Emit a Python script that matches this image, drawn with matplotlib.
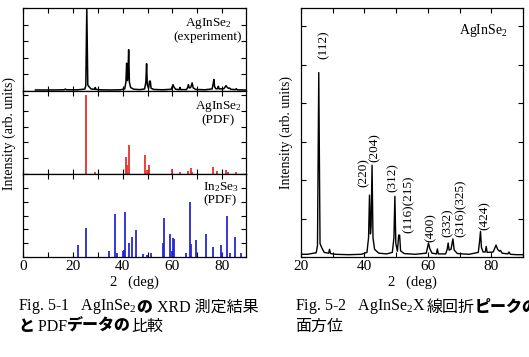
import numpy as np
import matplotlib.pyplot as plt
import matplotlib.ticker as mt

plt.rcParams['font.family'] = ['Liberation Serif', 'Noto Sans CJK JP']
plt.rcParams['mathtext.fontset'] = 'custom'
plt.rcParams['mathtext.rm'] = 'Liberation Serif'
plt.rcParams['mathtext.it'] = 'Liberation Serif:italic'

tth_exp = [5.0, 12.0, 16.5, 17.0, 17.5, 22.0, 24.8, 25.2, 25.6, 26.0, 26.5, 27.3,
           28.7, 29.0, 29.3, 31.0, 35.0, 39.0, 40.8, 41.3, 41.6, 41.9, 42.1, 42.4,
           42.7, 43.2, 44.5, 47.0, 48.8, 49.3, 49.6, 49.9, 50.4, 50.8, 51.1, 51.4,
           52.5, 56.0, 59.5, 59.9, 60.2, 60.6, 61.3, 62.7, 63.0, 63.3, 65.6, 66.1,
           66.4, 66.7, 67.3, 67.9, 68.3, 69.3, 73.0, 75.9, 76.3, 76.6, 76.9, 77.4,
           78.1, 78.4, 78.7, 80.6, 81.2, 81.5, 82.0, 82.6, 82.9, 83.4, 85.2, 85.6,
           86.0, 88.0, 90.0]
cnt_exp = [60, 60, 70, 110, 70, 70, 110, 300, 4800, 350, 250, 120,
           100, 200, 90, 70, 60, 70, 120, 500, 1610, 600, 800, 2390,
           500, 200, 100, 80, 120, 500, 1580, 350, 150, 570, 570, 160,
           90, 70, 100, 250, 365, 220, 100, 80, 210, 80, 80, 200,
           365, 180, 200, 470, 180, 90, 70, 120, 400, 665, 250, 130,
           130, 275, 120, 130, 250, 310, 200, 150, 170, 100, 80, 130,
           70, 60, 60]

# ---- AgInSe2 PDF card (2theta, relative intensity)
tth_ais = [25.3, 28.9, 41.4, 41.6, 42.6, 49.0, 49.8, 50.7, 59.7, 63.1, 66.4,
           67.5, 67.8, 76.4, 77.8, 81.5, 82.4, 85.5]
int_ais = [100, 3, 21, 12, 37, 24, 5, 11, 6, 2, 4, 7, 3, 9, 4, 5, 3, 2]

# ---- In2Se3 PDF card
tth_ins = [22.2, 25.2, 34.7, 36.9, 37.6, 40.0, 40.6, 41.1, 42.7, 43.6, 45.4,
           48.1, 49.7, 51.3, 56.1, 56.6, 58.8, 59.7, 60.1, 60.6, 65.3, 67.1,
           67.5, 69.4, 73.4, 76.3, 79.4, 79.8, 81.8, 83.1, 85.1, 87.3]
int_ins = [22, 52, 10, 78, 7, 10, 13, 82, 25, 36, 49, 5, 3, 7, 25, 70, 41, 10,
           34, 32, 7, 100, 24, 30, 41, 18, 21, 8, 75, 7, 37, 8]

# ---- Miller indices for Fig. 5-2 (label position 2theta, label base in counts)
hkl_labels = ['(112)', '(220)', '(204)', '(312)', '(116)(215)', '(400)',
              '(332)', '(316)(325)', '(424)']
hkl_tth = [27.0, 39.6, 43.2, 48.8, 54.1, 61.0, 66.4, 70.3, 77.9]
hkl_base = [5150, 1820, 2470, 1690, 620, 390, 520, 520, 700]

W, H = 529, 357
fig = plt.figure(figsize=(W / 100, H / 100), dpi=100)


def box(x0, y0, x1, y1):
    return [x0 / W, 1 - y1 / H, (x1 - x0) / W, (y1 - y0) / H]


def style(ax):
    ax.tick_params(direction='in', top=True, right=True, length=3.5, width=0.8,
                   labelsize=11, pad=2)
    ax.tick_params(which='minor', direction='in', top=True, right=True,
                   length=2, width=0.6)
    for s in ax.spines.values():
        s.set_linewidth(0.9)


# ==========================================
# Fig. 5-1  (three stacked panels)
# ==========================================
ax1 = fig.add_axes(box(23, 8, 246, 91))
ax2 = fig.add_axes(box(23, 91, 246, 174), sharex=ax1)
ax3 = fig.add_axes(box(23, 174, 246, 257), sharex=ax1)

ax1.plot(tth_exp, cnt_exp, color='black', lw=1.1)
ax1.set_ylim(0, 4800)
ax1.yaxis.set_major_locator(mt.MultipleLocator(960))

ax2.vlines(tth_ais, 0, int_ais, color='#e8302c', lw=1.3)
ax2.set_ylim(0, 105)
ax2.yaxis.set_major_locator(mt.MultipleLocator(20))

ax3.vlines(tth_ins, 0, int_ins, color='#2626d6', lw=1.3)
ax3.set_ylim(0, 150)
ax3.yaxis.set_major_locator(mt.MultipleLocator(50))
ax3.yaxis.set_minor_locator(mt.MultipleLocator(25))

ax3.set_xlim(0, 89.5)
ax3.xaxis.set_major_locator(mt.MultipleLocator(20))
ax3.xaxis.set_minor_locator(mt.MultipleLocator(10))
for ax in (ax1, ax2, ax3):
    style(ax)
    ax.tick_params(which='minor', length=3.5, width=0.8)
    ax.set_yticklabels([])
ax1.tick_params(labelbottom=False)
ax2.tick_params(labelbottom=False)
ax3.set_xlabel('2   (deg)', fontsize=10.5, labelpad=2)

ax1.text(0.83, 0.735, 'AgInSe$_2$\n(experiment)', transform=ax1.transAxes,
         ha='center', va='center', fontsize=9.5, linespacing=1.0)
ax2.text(0.875, 0.735, 'AgInSe$_2$\n(PDF)', transform=ax2.transAxes,
         ha='center', va='center', fontsize=9.5, linespacing=1.0)
ax3.text(0.885, 0.765, 'In$_2$Se$_3$\n(PDF)', transform=ax3.transAxes,
         ha='center', va='center', fontsize=9.5, linespacing=1.0)
fig.text(9 / W, 1 - 134 / H, 'Intensity (arb. units)', rotation=90,
         ha='center', va='center', fontsize=10)

# ==========================================
# Fig. 5-2  (indexed pattern)
# ==========================================
ax4 = fig.add_axes(box(301, 8, 523, 257))
ax4.plot(tth_exp, cnt_exp, color='black', lw=1.0)
ax4.set_xlim(20, 90)
ax4.set_ylim(0, 6480)
ax4.xaxis.set_major_locator(mt.MultipleLocator(20))
ax4.xaxis.set_minor_locator(mt.MultipleLocator(10))
ax4.yaxis.set_major_locator(mt.MultipleLocator(1000))
style(ax4)
ax4.tick_params(which='minor', length=3.5, width=0.8)
ax4.set_yticklabels([])
ax4.set_xlabel('2   (deg)', fontsize=10.5, labelpad=2)
ax4.set_ylabel('Intensity (arb. units)', fontsize=10, labelpad=4)
ax4.text(0.932, 0.908, 'AgInSe$_2$', transform=ax4.transAxes,
         ha='right', va='center', fontsize=10)
for lab, x, y in zip(hkl_labels, hkl_tth, hkl_base):
    ax4.text(x, y, lab, rotation=90, ha='center', va='bottom', fontsize=9.5)


# ---- captions (mixed regular / bold pieces chained one after another)
def caption(x, y, parts):
    s, w = parts[0]
    t = fig.text(x, y, s, fontweight=w, fontsize=11.5, va='bottom', ha='left')
    for s, w in parts[1:]:
        t = ax1.annotate(s, xy=(1, 0), xycoords=t, va='bottom', ha='left',
                         fontweight=w, fontsize=11.5, annotation_clip=False)


caption(18 / W, 1 - 316 / H, [('Fig. 5-1   AgInSe$_2$', 'normal'), ('の', 'heavy'),
                              (' XRD 測定結果', 'normal')])
caption(18 / W, 1 - 335 / H, [('と', 'heavy'), (' PDF', 'normal'), ('データの', 'heavy'),
                              ('比較', 'normal')])
caption(295 / W, 1 - 316 / H, [('Fig. 5-2   AgInSe$_2$X ', 'normal'), ('線回折', 'normal'),
                               ('ピークの', 'heavy')])
caption(295 / W, 1 - 335 / H, [('面方位', 'normal')])

fig.savefig('out.png', dpi=100)
